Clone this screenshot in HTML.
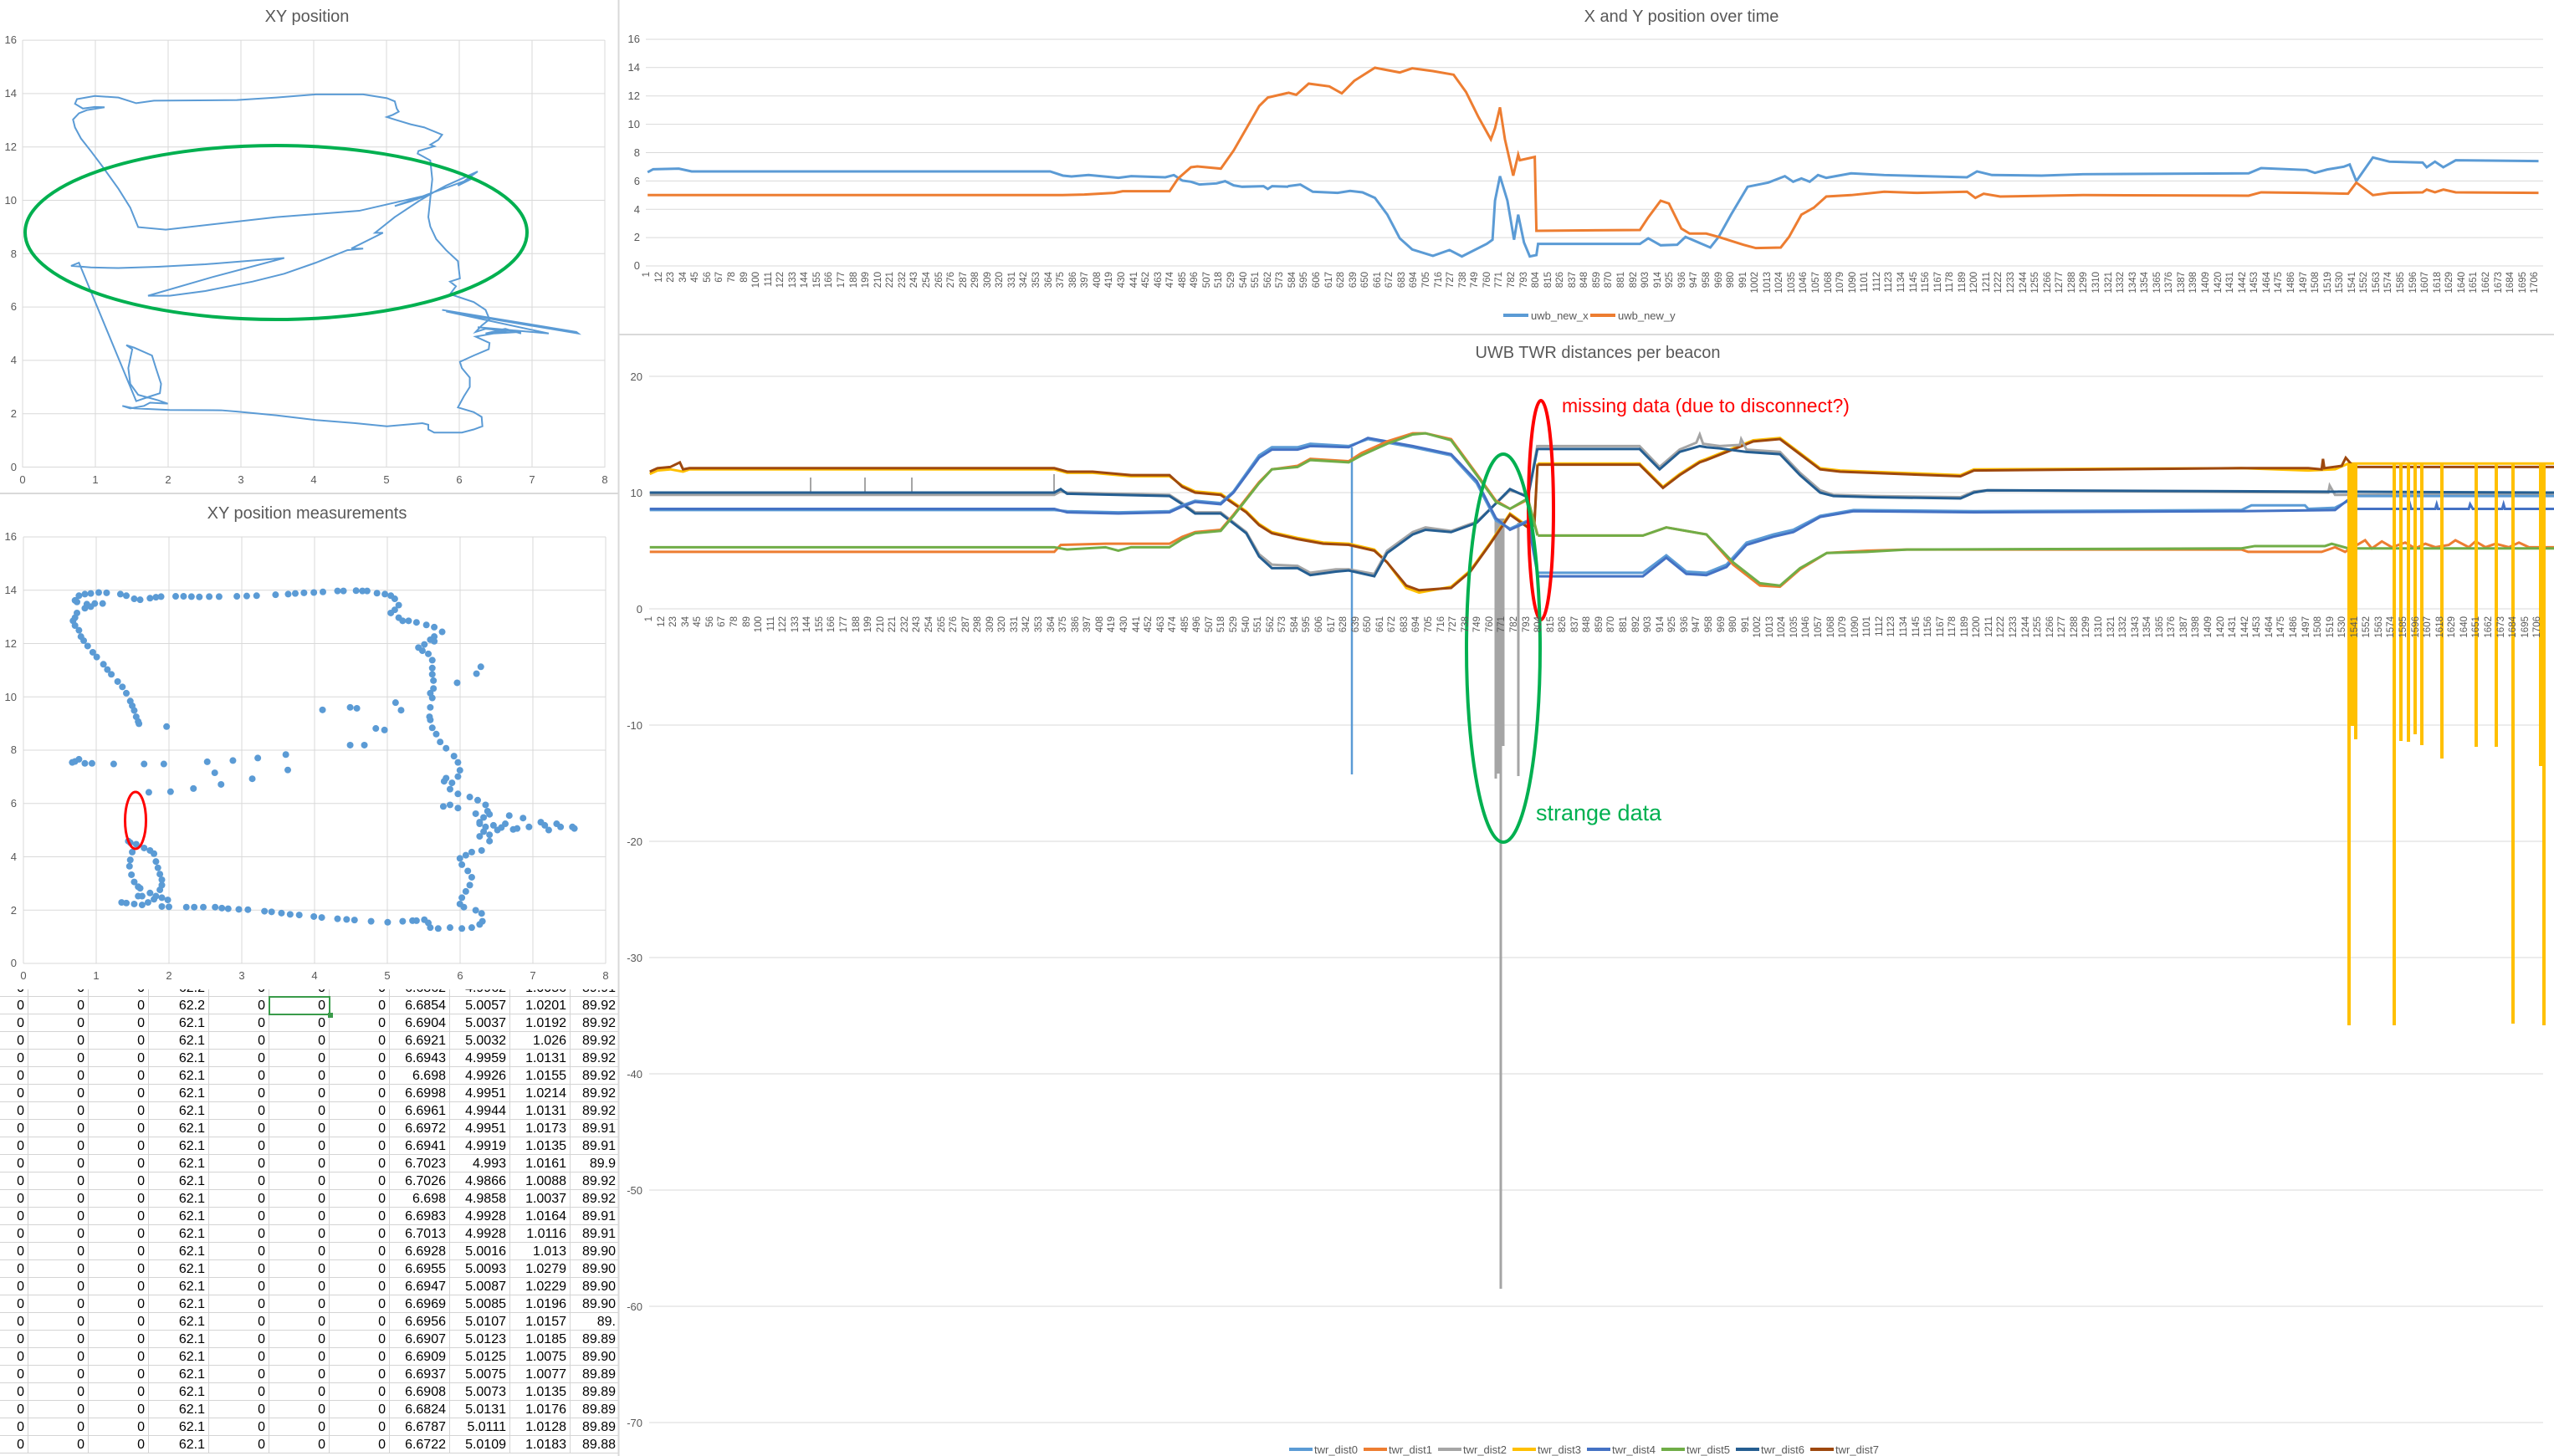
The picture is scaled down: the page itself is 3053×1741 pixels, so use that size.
<!DOCTYPE html>
<html><head><meta charset="utf-8">
<style>
body{margin:0;width:3053px;height:1741px;overflow:hidden;background:#fff;font-family:"Liberation Sans",sans-serif;position:relative}
svg{position:absolute;left:0;top:0}
.xl{position:absolute;display:flex;align-items:flex-start;font-size:11.5px;color:#595959;font-family:"Liberation Sans",sans-serif}
.xl span{flex:none;width:14.564px;line-height:14.564px;writing-mode:vertical-rl;transform:rotate(180deg);white-space:nowrap}
.tbl{position:absolute;left:0;top:1183px;width:739px;height:558px;overflow:hidden}
.tbl .in{position:absolute;left:-38px;top:-12px}
.r{display:flex;height:21px}
.r div{width:71px;height:20px;border-right:1px solid #d4d4d4;border-bottom:1px solid #d4d4d4;text-align:right;font-size:16px;line-height:21px;box-sizing:content-box;white-space:nowrap}
.r div span{padding-right:4px}
.r div:last-child span{padding-right:17px}
.sel{position:absolute;left:321px;top:1191px;width:70px;height:19px;border:2px solid #3a9b4a}
.sel:after{content:"";position:absolute;right:-5px;bottom:-5px;width:6px;height:6px;background:#3a9b4a}
</style></head><body>

<div class="tbl"><div class="in">
<div class="r"><div><span>0</span></div><div><span>0</span></div><div><span>0</span></div><div><span>62.2</span></div><div><span>0</span></div><div><span>0</span></div><div><span>0</span></div><div><span>6.6862</span></div><div><span>4.9962</span></div><div><span>1.0056</span></div><div><span>89.91</span></div></div>
<div class="r"><div><span>0</span></div><div><span>0</span></div><div><span>0</span></div><div><span>62.2</span></div><div><span>0</span></div><div><span>0</span></div><div><span>0</span></div><div><span>6.6854</span></div><div><span>5.0057</span></div><div><span>1.0201</span></div><div><span>89.92</span></div></div>
<div class="r"><div><span>0</span></div><div><span>0</span></div><div><span>0</span></div><div><span>62.1</span></div><div><span>0</span></div><div><span>0</span></div><div><span>0</span></div><div><span>6.6904</span></div><div><span>5.0037</span></div><div><span>1.0192</span></div><div><span>89.92</span></div></div>
<div class="r"><div><span>0</span></div><div><span>0</span></div><div><span>0</span></div><div><span>62.1</span></div><div><span>0</span></div><div><span>0</span></div><div><span>0</span></div><div><span>6.6921</span></div><div><span>5.0032</span></div><div><span>1.026</span></div><div><span>89.92</span></div></div>
<div class="r"><div><span>0</span></div><div><span>0</span></div><div><span>0</span></div><div><span>62.1</span></div><div><span>0</span></div><div><span>0</span></div><div><span>0</span></div><div><span>6.6943</span></div><div><span>4.9959</span></div><div><span>1.0131</span></div><div><span>89.92</span></div></div>
<div class="r"><div><span>0</span></div><div><span>0</span></div><div><span>0</span></div><div><span>62.1</span></div><div><span>0</span></div><div><span>0</span></div><div><span>0</span></div><div><span>6.698</span></div><div><span>4.9926</span></div><div><span>1.0155</span></div><div><span>89.92</span></div></div>
<div class="r"><div><span>0</span></div><div><span>0</span></div><div><span>0</span></div><div><span>62.1</span></div><div><span>0</span></div><div><span>0</span></div><div><span>0</span></div><div><span>6.6998</span></div><div><span>4.9951</span></div><div><span>1.0214</span></div><div><span>89.92</span></div></div>
<div class="r"><div><span>0</span></div><div><span>0</span></div><div><span>0</span></div><div><span>62.1</span></div><div><span>0</span></div><div><span>0</span></div><div><span>0</span></div><div><span>6.6961</span></div><div><span>4.9944</span></div><div><span>1.0131</span></div><div><span>89.92</span></div></div>
<div class="r"><div><span>0</span></div><div><span>0</span></div><div><span>0</span></div><div><span>62.1</span></div><div><span>0</span></div><div><span>0</span></div><div><span>0</span></div><div><span>6.6972</span></div><div><span>4.9951</span></div><div><span>1.0173</span></div><div><span>89.91</span></div></div>
<div class="r"><div><span>0</span></div><div><span>0</span></div><div><span>0</span></div><div><span>62.1</span></div><div><span>0</span></div><div><span>0</span></div><div><span>0</span></div><div><span>6.6941</span></div><div><span>4.9919</span></div><div><span>1.0135</span></div><div><span>89.91</span></div></div>
<div class="r"><div><span>0</span></div><div><span>0</span></div><div><span>0</span></div><div><span>62.1</span></div><div><span>0</span></div><div><span>0</span></div><div><span>0</span></div><div><span>6.7023</span></div><div><span>4.993</span></div><div><span>1.0161</span></div><div><span>89.9</span></div></div>
<div class="r"><div><span>0</span></div><div><span>0</span></div><div><span>0</span></div><div><span>62.1</span></div><div><span>0</span></div><div><span>0</span></div><div><span>0</span></div><div><span>6.7026</span></div><div><span>4.9866</span></div><div><span>1.0088</span></div><div><span>89.92</span></div></div>
<div class="r"><div><span>0</span></div><div><span>0</span></div><div><span>0</span></div><div><span>62.1</span></div><div><span>0</span></div><div><span>0</span></div><div><span>0</span></div><div><span>6.698</span></div><div><span>4.9858</span></div><div><span>1.0037</span></div><div><span>89.92</span></div></div>
<div class="r"><div><span>0</span></div><div><span>0</span></div><div><span>0</span></div><div><span>62.1</span></div><div><span>0</span></div><div><span>0</span></div><div><span>0</span></div><div><span>6.6983</span></div><div><span>4.9928</span></div><div><span>1.0164</span></div><div><span>89.91</span></div></div>
<div class="r"><div><span>0</span></div><div><span>0</span></div><div><span>0</span></div><div><span>62.1</span></div><div><span>0</span></div><div><span>0</span></div><div><span>0</span></div><div><span>6.7013</span></div><div><span>4.9928</span></div><div><span>1.0116</span></div><div><span>89.91</span></div></div>
<div class="r"><div><span>0</span></div><div><span>0</span></div><div><span>0</span></div><div><span>62.1</span></div><div><span>0</span></div><div><span>0</span></div><div><span>0</span></div><div><span>6.6928</span></div><div><span>5.0016</span></div><div><span>1.013</span></div><div><span>89.90</span></div></div>
<div class="r"><div><span>0</span></div><div><span>0</span></div><div><span>0</span></div><div><span>62.1</span></div><div><span>0</span></div><div><span>0</span></div><div><span>0</span></div><div><span>6.6955</span></div><div><span>5.0093</span></div><div><span>1.0279</span></div><div><span>89.90</span></div></div>
<div class="r"><div><span>0</span></div><div><span>0</span></div><div><span>0</span></div><div><span>62.1</span></div><div><span>0</span></div><div><span>0</span></div><div><span>0</span></div><div><span>6.6947</span></div><div><span>5.0087</span></div><div><span>1.0229</span></div><div><span>89.90</span></div></div>
<div class="r"><div><span>0</span></div><div><span>0</span></div><div><span>0</span></div><div><span>62.1</span></div><div><span>0</span></div><div><span>0</span></div><div><span>0</span></div><div><span>6.6969</span></div><div><span>5.0085</span></div><div><span>1.0196</span></div><div><span>89.90</span></div></div>
<div class="r"><div><span>0</span></div><div><span>0</span></div><div><span>0</span></div><div><span>62.1</span></div><div><span>0</span></div><div><span>0</span></div><div><span>0</span></div><div><span>6.6956</span></div><div><span>5.0107</span></div><div><span>1.0157</span></div><div><span>89.</span></div></div>
<div class="r"><div><span>0</span></div><div><span>0</span></div><div><span>0</span></div><div><span>62.1</span></div><div><span>0</span></div><div><span>0</span></div><div><span>0</span></div><div><span>6.6907</span></div><div><span>5.0123</span></div><div><span>1.0185</span></div><div><span>89.89</span></div></div>
<div class="r"><div><span>0</span></div><div><span>0</span></div><div><span>0</span></div><div><span>62.1</span></div><div><span>0</span></div><div><span>0</span></div><div><span>0</span></div><div><span>6.6909</span></div><div><span>5.0125</span></div><div><span>1.0075</span></div><div><span>89.90</span></div></div>
<div class="r"><div><span>0</span></div><div><span>0</span></div><div><span>0</span></div><div><span>62.1</span></div><div><span>0</span></div><div><span>0</span></div><div><span>0</span></div><div><span>6.6937</span></div><div><span>5.0075</span></div><div><span>1.0077</span></div><div><span>89.89</span></div></div>
<div class="r"><div><span>0</span></div><div><span>0</span></div><div><span>0</span></div><div><span>62.1</span></div><div><span>0</span></div><div><span>0</span></div><div><span>0</span></div><div><span>6.6908</span></div><div><span>5.0073</span></div><div><span>1.0135</span></div><div><span>89.89</span></div></div>
<div class="r"><div><span>0</span></div><div><span>0</span></div><div><span>0</span></div><div><span>62.1</span></div><div><span>0</span></div><div><span>0</span></div><div><span>0</span></div><div><span>6.6824</span></div><div><span>5.0131</span></div><div><span>1.0176</span></div><div><span>89.89</span></div></div>
<div class="r"><div><span>0</span></div><div><span>0</span></div><div><span>0</span></div><div><span>62.1</span></div><div><span>0</span></div><div><span>0</span></div><div><span>0</span></div><div><span>6.6787</span></div><div><span>5.0111</span></div><div><span>1.0128</span></div><div><span>89.89</span></div></div>
<div class="r"><div><span>0</span></div><div><span>0</span></div><div><span>0</span></div><div><span>62.1</span></div><div><span>0</span></div><div><span>0</span></div><div><span>0</span></div><div><span>6.6722</span></div><div><span>5.0109</span></div><div><span>1.0183</span></div><div><span>89.88</span></div></div>
</div></div>
<div class="sel"></div>

<svg width="3053" height="1741" viewBox="0 0 3053 1741" style="pointer-events:none">
<style>text{font-family:"Liberation Sans",sans-serif;fill:#595959}</style>
<rect x="0" y="0" width="739" height="589" fill="#fff"/>
<rect x="0" y="591" width="739" height="592" fill="#fff"/>
<line x1="739.5" y1="0" x2="739.5" y2="1741" stroke="#d9d9d9" stroke-width="2"/>
<line x1="0" y1="590" x2="739" y2="590" stroke="#d9d9d9" stroke-width="2"/>
<line x1="740" y1="400" x2="3053" y2="400" stroke="#d9d9d9" stroke-width="2"/>

<text x="367" y="26" font-size="20" text-anchor="middle">XY position</text>
<g stroke="#d9d9d9" stroke-width="1">
<line x1="27" y1="48" x2="27" y2="559"/><line x1="114" y1="48" x2="114" y2="559"/><line x1="201" y1="48" x2="201" y2="559"/><line x1="288" y1="48" x2="288" y2="559"/><line x1="375" y1="48" x2="375" y2="559"/><line x1="462" y1="48" x2="462" y2="559"/><line x1="549" y1="48" x2="549" y2="559"/><line x1="636" y1="48" x2="636" y2="559"/><line x1="723" y1="48" x2="723" y2="559"/>
<line x1="27" y1="558.5" x2="723" y2="558.5"/><line x1="27" y1="494.7" x2="723" y2="494.7"/><line x1="27" y1="430.9" x2="723" y2="430.9"/><line x1="27" y1="367.1" x2="723" y2="367.1"/><line x1="27" y1="303.3" x2="723" y2="303.3"/><line x1="27" y1="239.5" x2="723" y2="239.5"/><line x1="27" y1="175.7" x2="723" y2="175.7"/><line x1="27" y1="111.9" x2="723" y2="111.9"/><line x1="27" y1="48.1" x2="723" y2="48.1"/>
</g>
<g font-size="13" text-anchor="end">
<text x="20" y="563">0</text><text x="20" y="499">2</text><text x="20" y="435">4</text><text x="20" y="371">6</text><text x="20" y="308">8</text><text x="20" y="244">10</text><text x="20" y="180">12</text><text x="20" y="116">14</text><text x="20" y="52">16</text>
</g>
<g font-size="13" text-anchor="middle">
<text x="27" y="578">0</text><text x="114" y="578">1</text><text x="201" y="578">2</text><text x="288" y="578">3</text><text x="375" y="578">4</text><text x="462" y="578">5</text><text x="549" y="578">6</text><text x="636" y="578">7</text><text x="723" y="578">8</text>
</g>
<g transform="scale(0.4719,0.3762)">
<polyline fill="none" stroke="#5B9BD5" stroke-width="2" vector-effect="non-scaling-stroke" points="265,341 240,340 210,345 190,330 195,315 240,305 300,310 345,328 390,320 600,318 700,310 800,300 920,300 980,312 1000,322 1005,345 1010,355 995,365 980,372 1000,380 1040,395 1075,405 1120,428 1110,445 1090,460 1100,465 1060,480 1058,488 1090,510 1095,570 1090,630 1085,690 1090,720 1105,760 1130,795 1160,830 1165,885 1140,895 1155,910 1140,935 1200,960 1230,985 1240,1015 1220,1035 1205,1055 1230,1045 1270,1050 1320,1055 1250,1060 1205,1070 1240,1090 1238,1110 1200,1130 1165,1150 1170,1170 1190,1200 1190,1230 1175,1260 1160,1295 1200,1310 1220,1325 1222,1355 1200,1365 1170,1375 1100,1375 1085,1365 1085,1350 1070,1345 980,1355 900,1345 800,1335 700,1320 600,1308 560,1304 430,1303 340,1298 310,1290 330,1298 365,1290 380,1280 425,1283 400,1272 350,1255 330,1220 325,1170 335,1110 320,1097 340,1105 385,1130 395,1170 408,1220 405,1250 380,1260 345,1275 200,835 180,845 230,850 300,852 400,848 520,840 720,820 540,880 375,940 430,940 520,925 640,895 720,870 800,835 880,795 920,790 890,790 970,740 950,740 1000,690 1060,640 1100,610 1130,590 1210,545 1160,590 1200,565 1090,615 1000,655 1040,640 1090,618 910,670 700,690 420,730 350,722 330,660 300,600 260,530 230,480 205,440 190,405 185,380 200,360 220,350 265,341"/>
<polyline fill="none" stroke="#5B9BD5" stroke-width="2" vector-effect="non-scaling-stroke" points="1120,985 1460,1055 1465,1060 1130,990 1390,1060 1210,1040 1300,1050 1230,1060 1280,1045 1320,1060"/>
</g>
<ellipse cx="330" cy="278" rx="300" ry="104" fill="none" stroke="#00B050" stroke-width="4"/>

<text x="367" y="620" font-size="20" text-anchor="middle">XY position measurements</text>
<g stroke="#d9d9d9" stroke-width="1">
<line x1="28" y1="642" x2="28" y2="1152"/><line x1="115" y1="642" x2="115" y2="1152"/><line x1="202" y1="642" x2="202" y2="1152"/><line x1="289" y1="642" x2="289" y2="1152"/><line x1="376" y1="642" x2="376" y2="1152"/><line x1="463" y1="642" x2="463" y2="1152"/><line x1="550" y1="642" x2="550" y2="1152"/><line x1="637" y1="642" x2="637" y2="1152"/><line x1="724" y1="642" x2="724" y2="1152"/>
<line x1="28" y1="1152" x2="724" y2="1152"/><line x1="28" y1="1088.25" x2="724" y2="1088.25"/><line x1="28" y1="1024.5" x2="724" y2="1024.5"/><line x1="28" y1="960.75" x2="724" y2="960.75"/><line x1="28" y1="897" x2="724" y2="897"/><line x1="28" y1="833.25" x2="724" y2="833.25"/><line x1="28" y1="769.5" x2="724" y2="769.5"/><line x1="28" y1="705.75" x2="724" y2="705.75"/><line x1="28" y1="642" x2="724" y2="642"/>
</g>
<g font-size="13" text-anchor="end">
<text x="20" y="1156">0</text><text x="20" y="1093">2</text><text x="20" y="1029">4</text><text x="20" y="965">6</text><text x="20" y="901">8</text><text x="20" y="838">10</text><text x="20" y="774">12</text><text x="20" y="710">14</text><text x="20" y="646">16</text>
</g>
<g font-size="13" text-anchor="middle">
<text x="28" y="1171">0</text><text x="115" y="1171">1</text><text x="202" y="1171">2</text><text x="289" y="1171">3</text><text x="376" y="1171">4</text><text x="463" y="1171">5</text><text x="550" y="1171">6</text><text x="637" y="1171">7</text><text x="724" y="1171">8</text>
</g>
<g transform="translate(0,590) scale(0.4719,0.3762)" fill="#5B9BD5">
<ellipse cx="305" cy="320" rx="8.5" ry="10.6"/><ellipse cx="320" cy="325" rx="8.5" ry="10.6"/><ellipse cx="340" cy="335" rx="8.5" ry="10.6"/><ellipse cx="355" cy="338" rx="8.5" ry="10.6"/><ellipse cx="380" cy="333" rx="8.5" ry="10.6"/><ellipse cx="395" cy="330" rx="8.5" ry="10.6"/><ellipse cx="408" cy="328" rx="8.5" ry="10.6"/><ellipse cx="445" cy="327" rx="8.5" ry="10.6"/><ellipse cx="465" cy="327" rx="8.5" ry="10.6"/><ellipse cx="485" cy="328" rx="8.5" ry="10.6"/><ellipse cx="505" cy="329" rx="8.5" ry="10.6"/><ellipse cx="530" cy="328" rx="8.5" ry="10.6"/><ellipse cx="555" cy="328" rx="8.5" ry="10.6"/><ellipse cx="600" cy="327" rx="8.5" ry="10.6"/><ellipse cx="625" cy="326" rx="8.5" ry="10.6"/><ellipse cx="650" cy="325" rx="8.5" ry="10.6"/><ellipse cx="698" cy="322" rx="8.5" ry="10.6"/><ellipse cx="730" cy="320" rx="8.5" ry="10.6"/><ellipse cx="748" cy="318" rx="8.5" ry="10.6"/><ellipse cx="770" cy="316" rx="8.5" ry="10.6"/><ellipse cx="795" cy="315" rx="8.5" ry="10.6"/><ellipse cx="818" cy="313" rx="8.5" ry="10.6"/><ellipse cx="855" cy="310" rx="8.5" ry="10.6"/><ellipse cx="870" cy="310" rx="8.5" ry="10.6"/><ellipse cx="902" cy="309" rx="8.5" ry="10.6"/><ellipse cx="918" cy="310" rx="8.5" ry="10.6"/><ellipse cx="930" cy="310" rx="8.5" ry="10.6"/><ellipse cx="955" cy="317" rx="8.5" ry="10.6"/><ellipse cx="975" cy="320" rx="8.5" ry="10.6"/><ellipse cx="990" cy="325" rx="8.5" ry="10.6"/>
<ellipse cx="190" cy="340" rx="8.5" ry="10.6"/><ellipse cx="200" cy="325" rx="8.5" ry="10.6"/><ellipse cx="215" cy="320" rx="8.5" ry="10.6"/><ellipse cx="230" cy="318" rx="8.5" ry="10.6"/><ellipse cx="250" cy="315" rx="8.5" ry="10.6"/><ellipse cx="270" cy="316" rx="8.5" ry="10.6"/><ellipse cx="195" cy="345" rx="8.5" ry="10.6"/><ellipse cx="220" cy="352" rx="8.5" ry="10.6"/><ellipse cx="240" cy="350" rx="8.5" ry="10.6"/><ellipse cx="260" cy="350" rx="8.5" ry="10.6"/><ellipse cx="215" cy="365" rx="8.5" ry="10.6"/><ellipse cx="230" cy="360" rx="8.5" ry="10.6"/><ellipse cx="195" cy="380" rx="8.5" ry="10.6"/><ellipse cx="190" cy="395" rx="8.5" ry="10.6"/><ellipse cx="185" cy="405" rx="8.5" ry="10.6"/><ellipse cx="190" cy="420" rx="8.5" ry="10.6"/><ellipse cx="200" cy="435" rx="8.5" ry="10.6"/><ellipse cx="205" cy="455" rx="8.5" ry="10.6"/><ellipse cx="212" cy="468" rx="8.5" ry="10.6"/><ellipse cx="222" cy="485" rx="8.5" ry="10.6"/><ellipse cx="235" cy="505" rx="8.5" ry="10.6"/><ellipse cx="245" cy="520" rx="8.5" ry="10.6"/><ellipse cx="262" cy="543" rx="8.5" ry="10.6"/><ellipse cx="272" cy="560" rx="8.5" ry="10.6"/><ellipse cx="282" cy="575" rx="8.5" ry="10.6"/><ellipse cx="298" cy="598" rx="8.5" ry="10.6"/><ellipse cx="310" cy="615" rx="8.5" ry="10.6"/><ellipse cx="320" cy="635" rx="8.5" ry="10.6"/><ellipse cx="330" cy="660" rx="8.5" ry="10.6"/><ellipse cx="335" cy="675" rx="8.5" ry="10.6"/><ellipse cx="340" cy="690" rx="8.5" ry="10.6"/><ellipse cx="345" cy="710" rx="8.5" ry="10.6"/><ellipse cx="350" cy="725" rx="8.5" ry="10.6"/><ellipse cx="352" cy="732" rx="8.5" ry="10.6"/>
<ellipse cx="1000" cy="335" rx="8.5" ry="10.6"/><ellipse cx="1010" cy="355" rx="8.5" ry="10.6"/><ellipse cx="1000" cy="370" rx="8.5" ry="10.6"/><ellipse cx="990" cy="380" rx="8.5" ry="10.6"/><ellipse cx="1010" cy="395" rx="8.5" ry="10.6"/><ellipse cx="1020" cy="405" rx="8.5" ry="10.6"/><ellipse cx="1035" cy="405" rx="8.5" ry="10.6"/><ellipse cx="1055" cy="410" rx="8.5" ry="10.6"/><ellipse cx="1080" cy="418" rx="8.5" ry="10.6"/><ellipse cx="1100" cy="425" rx="8.5" ry="10.6"/><ellipse cx="1120" cy="440" rx="8.5" ry="10.6"/><ellipse cx="1100" cy="455" rx="8.5" ry="10.6"/><ellipse cx="1090" cy="465" rx="8.5" ry="10.6"/><ellipse cx="1100" cy="470" rx="8.5" ry="10.6"/><ellipse cx="1075" cy="480" rx="8.5" ry="10.6"/><ellipse cx="1060" cy="490" rx="8.5" ry="10.6"/><ellipse cx="1070" cy="500" rx="8.5" ry="10.6"/><ellipse cx="1085" cy="510" rx="8.5" ry="10.6"/><ellipse cx="1095" cy="530" rx="8.5" ry="10.6"/><ellipse cx="1095" cy="555" rx="8.5" ry="10.6"/><ellipse cx="1095" cy="575" rx="8.5" ry="10.6"/><ellipse cx="1098" cy="595" rx="8.5" ry="10.6"/><ellipse cx="1098" cy="620" rx="8.5" ry="10.6"/><ellipse cx="1090" cy="635" rx="8.5" ry="10.6"/><ellipse cx="1095" cy="650" rx="8.5" ry="10.6"/><ellipse cx="1090" cy="680" rx="8.5" ry="10.6"/><ellipse cx="1088" cy="710" rx="8.5" ry="10.6"/><ellipse cx="1090" cy="720" rx="8.5" ry="10.6"/><ellipse cx="1095" cy="745" rx="8.5" ry="10.6"/><ellipse cx="1105" cy="765" rx="8.5" ry="10.6"/><ellipse cx="1115" cy="790" rx="8.5" ry="10.6"/><ellipse cx="1130" cy="810" rx="8.5" ry="10.6"/><ellipse cx="1150" cy="835" rx="8.5" ry="10.6"/><ellipse cx="1160" cy="855" rx="8.5" ry="10.6"/><ellipse cx="1165" cy="880" rx="8.5" ry="10.6"/><ellipse cx="1160" cy="900" rx="8.5" ry="10.6"/><ellipse cx="1130" cy="905" rx="8.5" ry="10.6"/><ellipse cx="1125" cy="915" rx="8.5" ry="10.6"/><ellipse cx="1145" cy="920" rx="8.5" ry="10.6"/><ellipse cx="1140" cy="940" rx="8.5" ry="10.6"/><ellipse cx="1160" cy="955" rx="8.5" ry="10.6"/><ellipse cx="1190" cy="965" rx="8.5" ry="10.6"/><ellipse cx="1210" cy="975" rx="8.5" ry="10.6"/><ellipse cx="1230" cy="990" rx="8.5" ry="10.6"/><ellipse cx="1235" cy="1010" rx="8.5" ry="10.6"/><ellipse cx="1225" cy="1030" rx="8.5" ry="10.6"/><ellipse cx="1215" cy="1050" rx="8.5" ry="10.6"/><ellipse cx="1230" cy="1060" rx="8.5" ry="10.6"/><ellipse cx="1260" cy="1070" rx="8.5" ry="10.6"/><ellipse cx="1300" cy="1068" rx="8.5" ry="10.6"/><ellipse cx="1340" cy="1060" rx="8.5" ry="10.6"/><ellipse cx="1380" cy="1055" rx="8.5" ry="10.6"/><ellipse cx="1420" cy="1060" rx="8.5" ry="10.6"/><ellipse cx="1455" cy="1065" rx="8.5" ry="10.6"/><ellipse cx="1370" cy="1045" rx="8.5" ry="10.6"/><ellipse cx="1410" cy="1050" rx="8.5" ry="10.6"/><ellipse cx="1450" cy="1060" rx="8.5" ry="10.6"/><ellipse cx="1240" cy="1085" rx="8.5" ry="10.6"/><ellipse cx="1215" cy="1090" rx="8.5" ry="10.6"/><ellipse cx="1240" cy="1105" rx="8.5" ry="10.6"/><ellipse cx="1220" cy="1135" rx="8.5" ry="10.6"/><ellipse cx="1195" cy="1140" rx="8.5" ry="10.6"/><ellipse cx="1180" cy="1150" rx="8.5" ry="10.6"/><ellipse cx="1165" cy="1160" rx="8.5" ry="10.6"/><ellipse cx="1170" cy="1180" rx="8.5" ry="10.6"/><ellipse cx="1185" cy="1200" rx="8.5" ry="10.6"/><ellipse cx="1195" cy="1220" rx="8.5" ry="10.6"/><ellipse cx="1190" cy="1245" rx="8.5" ry="10.6"/><ellipse cx="1180" cy="1265" rx="8.5" ry="10.6"/><ellipse cx="1170" cy="1285" rx="8.5" ry="10.6"/><ellipse cx="1165" cy="1305" rx="8.5" ry="10.6"/><ellipse cx="1175" cy="1315" rx="8.5" ry="10.6"/><ellipse cx="1205" cy="1325" rx="8.5" ry="10.6"/><ellipse cx="1220" cy="1335" rx="8.5" ry="10.6"/><ellipse cx="1222" cy="1360" rx="8.5" ry="10.6"/><ellipse cx="1215" cy="1370" rx="8.5" ry="10.6"/><ellipse cx="1195" cy="1380" rx="8.5" ry="10.6"/><ellipse cx="1170" cy="1383" rx="8.5" ry="10.6"/><ellipse cx="1140" cy="1380" rx="8.5" ry="10.6"/><ellipse cx="1110" cy="1383" rx="8.5" ry="10.6"/><ellipse cx="1090" cy="1380" rx="8.5" ry="10.6"/><ellipse cx="1085" cy="1365" rx="8.5" ry="10.6"/><ellipse cx="1075" cy="1355" rx="8.5" ry="10.6"/><ellipse cx="1055" cy="1358" rx="8.5" ry="10.6"/><ellipse cx="1045" cy="1358" rx="8.5" ry="10.6"/><ellipse cx="1020" cy="1360" rx="8.5" ry="10.6"/><ellipse cx="982" cy="1363" rx="8.5" ry="10.6"/><ellipse cx="940" cy="1360" rx="8.5" ry="10.6"/><ellipse cx="898" cy="1356" rx="8.5" ry="10.6"/><ellipse cx="878" cy="1354" rx="8.5" ry="10.6"/><ellipse cx="855" cy="1352" rx="8.5" ry="10.6"/><ellipse cx="815" cy="1348" rx="8.5" ry="10.6"/><ellipse cx="795" cy="1345" rx="8.5" ry="10.6"/><ellipse cx="758" cy="1340" rx="8.5" ry="10.6"/><ellipse cx="735" cy="1338" rx="8.5" ry="10.6"/><ellipse cx="713" cy="1334" rx="8.5" ry="10.6"/><ellipse cx="688" cy="1330" rx="8.5" ry="10.6"/><ellipse cx="670" cy="1328" rx="8.5" ry="10.6"/><ellipse cx="628" cy="1323" rx="8.5" ry="10.6"/><ellipse cx="605" cy="1322" rx="8.5" ry="10.6"/><ellipse cx="578" cy="1320" rx="8.5" ry="10.6"/><ellipse cx="562" cy="1318" rx="8.5" ry="10.6"/><ellipse cx="545" cy="1315" rx="8.5" ry="10.6"/><ellipse cx="515" cy="1315" rx="8.5" ry="10.6"/><ellipse cx="492" cy="1315" rx="8.5" ry="10.6"/><ellipse cx="472" cy="1315" rx="8.5" ry="10.6"/><ellipse cx="428" cy="1314" rx="8.5" ry="10.6"/><ellipse cx="410" cy="1313" rx="8.5" ry="10.6"/><ellipse cx="390" cy="1290" rx="8.5" ry="10.6"/><ellipse cx="375" cy="1300" rx="8.5" ry="10.6"/><ellipse cx="360" cy="1308" rx="8.5" ry="10.6"/><ellipse cx="340" cy="1305" rx="8.5" ry="10.6"/><ellipse cx="320" cy="1302" rx="8.5" ry="10.6"/><ellipse cx="308" cy="1300" rx="8.5" ry="10.6"/><ellipse cx="350" cy="1280" rx="8.5" ry="10.6"/><ellipse cx="360" cy="1280" rx="8.5" ry="10.6"/><ellipse cx="380" cy="1270" rx="8.5" ry="10.6"/><ellipse cx="395" cy="1280" rx="8.5" ry="10.6"/><ellipse cx="410" cy="1285" rx="8.5" ry="10.6"/><ellipse cx="425" cy="1292" rx="8.5" ry="10.6"/><ellipse cx="405" cy="1260" rx="8.5" ry="10.6"/><ellipse cx="410" cy="1245" rx="8.5" ry="10.6"/><ellipse cx="410" cy="1228" rx="8.5" ry="10.6"/><ellipse cx="405" cy="1210" rx="8.5" ry="10.6"/><ellipse cx="400" cy="1190" rx="8.5" ry="10.6"/><ellipse cx="395" cy="1170" rx="8.5" ry="10.6"/><ellipse cx="390" cy="1145" rx="8.5" ry="10.6"/><ellipse cx="380" cy="1135" rx="8.5" ry="10.6"/><ellipse cx="365" cy="1127" rx="8.5" ry="10.6"/><ellipse cx="345" cy="1115" rx="8.5" ry="10.6"/><ellipse cx="330" cy="1110" rx="8.5" ry="10.6"/><ellipse cx="325" cy="1105" rx="8.5" ry="10.6"/><ellipse cx="335" cy="1140" rx="8.5" ry="10.6"/><ellipse cx="330" cy="1165" rx="8.5" ry="10.6"/><ellipse cx="328" cy="1185" rx="8.5" ry="10.6"/><ellipse cx="333" cy="1212" rx="8.5" ry="10.6"/><ellipse cx="340" cy="1235" rx="8.5" ry="10.6"/><ellipse cx="350" cy="1250" rx="8.5" ry="10.6"/><ellipse cx="355" cy="1255" rx="8.5" ry="10.6"/>
<ellipse cx="183" cy="855" rx="8.5" ry="10.6"/><ellipse cx="190" cy="852" rx="8.5" ry="10.6"/><ellipse cx="200" cy="845" rx="8.5" ry="10.6"/><ellipse cx="215" cy="858" rx="8.5" ry="10.6"/><ellipse cx="233" cy="858" rx="8.5" ry="10.6"/><ellipse cx="288" cy="860" rx="8.5" ry="10.6"/><ellipse cx="365" cy="860" rx="8.5" ry="10.6"/><ellipse cx="415" cy="860" rx="8.5" ry="10.6"/><ellipse cx="525" cy="853" rx="8.5" ry="10.6"/><ellipse cx="590" cy="849" rx="8.5" ry="10.6"/><ellipse cx="653" cy="841" rx="8.5" ry="10.6"/><ellipse cx="724" cy="830" rx="8.5" ry="10.6"/><ellipse cx="729" cy="879" rx="8.5" ry="10.6"/><ellipse cx="639" cy="907" rx="8.5" ry="10.6"/><ellipse cx="544" cy="888" rx="8.5" ry="10.6"/><ellipse cx="560" cy="925" rx="8.5" ry="10.6"/><ellipse cx="490" cy="938" rx="8.5" ry="10.6"/><ellipse cx="432" cy="948" rx="8.5" ry="10.6"/><ellipse cx="377" cy="950" rx="8.5" ry="10.6"/><ellipse cx="422" cy="741" rx="8.5" ry="10.6"/><ellipse cx="817" cy="688" rx="8.5" ry="10.6"/><ellipse cx="887" cy="680" rx="8.5" ry="10.6"/><ellipse cx="904" cy="683" rx="8.5" ry="10.6"/><ellipse cx="952" cy="747" rx="8.5" ry="10.6"/><ellipse cx="974" cy="752" rx="8.5" ry="10.6"/><ellipse cx="887" cy="800" rx="8.5" ry="10.6"/><ellipse cx="923" cy="800" rx="8.5" ry="10.6"/><ellipse cx="1002" cy="665" rx="8.5" ry="10.6"/><ellipse cx="1016" cy="689" rx="8.5" ry="10.6"/><ellipse cx="1158" cy="602" rx="8.5" ry="10.6"/><ellipse cx="1207" cy="573" rx="8.5" ry="10.6"/><ellipse cx="1218" cy="551" rx="8.5" ry="10.6"/><ellipse cx="1123" cy="995" rx="8.5" ry="10.6"/><ellipse cx="1140" cy="990" rx="8.5" ry="10.6"/><ellipse cx="1160" cy="1000" rx="8.5" ry="10.6"/><ellipse cx="1290" cy="1024" rx="8.5" ry="10.6"/><ellipse cx="1325" cy="1032" rx="8.5" ry="10.6"/><ellipse cx="1240" cy="1020" rx="8.5" ry="10.6"/><ellipse cx="1205" cy="1018" rx="8.5" ry="10.6"/><ellipse cx="1390" cy="1070" rx="8.5" ry="10.6"/><ellipse cx="1215" cy="1045" rx="8.5" ry="10.6"/><ellipse cx="1250" cy="1055" rx="8.5" ry="10.6"/><ellipse cx="1280" cy="1050" rx="8.5" ry="10.6"/><ellipse cx="1310" cy="1065" rx="8.5" ry="10.6"/><ellipse cx="1225" cy="1075" rx="8.5" ry="10.6"/><ellipse cx="1270" cy="1062" rx="8.5" ry="10.6"/>
</g>
<ellipse cx="162" cy="981" rx="12.5" ry="34" fill="none" stroke="#FF0000" stroke-width="3"/>

<text x="2010" y="26" font-size="20" text-anchor="middle">X and Y position over time</text>
<g stroke="#d9d9d9" stroke-width="1">
<line x1="772" y1="318" x2="3040" y2="318"/><line x1="772" y1="284.1" x2="3040" y2="284.1"/><line x1="772" y1="250.2" x2="3040" y2="250.2"/><line x1="772" y1="216.4" x2="3040" y2="216.4"/><line x1="772" y1="182.5" x2="3040" y2="182.5"/><line x1="772" y1="148.6" x2="3040" y2="148.6"/><line x1="772" y1="114.7" x2="3040" y2="114.7"/><line x1="772" y1="80.8" x2="3040" y2="80.8"/><line x1="772" y1="47" x2="3040" y2="47"/>
</g>
<g font-size="13" text-anchor="end">
<text x="765" y="322">0</text><text x="765" y="288">2</text><text x="765" y="255">4</text><text x="765" y="221">6</text><text x="765" y="187">8</text><text x="765" y="153">10</text><text x="765" y="119">12</text><text x="765" y="85">14</text><text x="765" y="51">16</text>
</g>
<g transform="translate(740,0) scale(0.5102,0.3333)" fill="none">
<polyline stroke="#5B9BD5" stroke-width="3" vector-effect="non-scaling-stroke" points="67,618 80,607 140,605 170,615 1010,615 1040,630 1060,633 1100,628 1170,638 1200,632 1280,636 1300,628 1320,648 1340,652 1360,662 1400,658 1420,650 1440,665 1460,670 1510,668 1520,678 1530,668 1568,670"/>
<polyline stroke="#ED7D31" stroke-width="3" vector-effect="non-scaling-stroke" points="67,700 1030,700 1090,698 1160,692 1180,686 1290,686 1310,640 1340,600 1355,597 1410,605 1440,540 1470,460 1500,380 1520,350 1568,333"/>
</g>
<g transform="translate(1500,0) scale(0.99,0.3333)" fill="none">
<polyline stroke="#5B9BD5" stroke-width="3" vector-effect="non-scaling-stroke" points="40,668 55,662 70,688 100,692 115,685 130,690 145,710 160,770 175,855 190,895 215,918 235,897 250,920 280,875 287,860 290,720 296,632 305,720 313,860 318,770 325,870 332,920 340,915 342,875 465,875 475,855 490,880 510,878 520,850 550,888 560,850 575,770 595,670 620,655 640,632 650,652 660,640 670,652 680,628 690,638 720,622 760,628 860,636 872,615 890,628 950,630 1000,625 1200,622 1215,603 1270,610 1280,620 1295,608 1315,598 1322,590 1330,650 1350,565 1370,580 1410,583 1415,600 1425,580 1435,600 1450,575 1550,578"/>
<polyline stroke="#ED7D31" stroke-width="3" vector-effect="non-scaling-stroke" points="40,332 50,340 65,300 90,310 105,335 120,290 145,243 175,260 190,245 215,255 240,268 255,330 270,420 285,500 290,460 296,385 302,500 312,630 318,555 320,575 338,563 340,828 465,825 475,780 490,720 500,730 515,820 525,838 545,838 560,850 590,878 605,890 635,888 645,850 660,770 675,745 690,705 720,700 760,688 800,692 860,688 870,710 880,695 900,705 1000,700 1200,702 1215,690 1270,692 1320,695 1330,655 1350,700 1370,692 1410,690 1415,680 1425,690 1435,680 1450,690 1550,692"/>
</g>
<line x1="1797" y1="377" x2="1827" y2="377" stroke="#5B9BD5" stroke-width="4"/>
<text x="1830" y="382" font-size="13">uwb_new_x</text>
<line x1="1901" y1="377" x2="1931" y2="377" stroke="#ED7D31" stroke-width="4"/>
<text x="1934" y="382" font-size="13">uwb_new_y</text>

<text x="1910" y="428" font-size="20" text-anchor="middle">UWB TWR distances per beacon</text>
<g stroke="#d9d9d9" stroke-width="1">
<line x1="776" y1="450" x2="3040" y2="450"/><line x1="776" y1="589" x2="3040" y2="589"/><line x1="776" y1="728" x2="3040" y2="728"/><line x1="776" y1="867" x2="3040" y2="867"/><line x1="776" y1="1006" x2="3040" y2="1006"/><line x1="776" y1="1145" x2="3040" y2="1145"/><line x1="776" y1="1284" x2="3040" y2="1284"/><line x1="776" y1="1423" x2="3040" y2="1423"/><line x1="776" y1="1562" x2="3040" y2="1562"/><line x1="776" y1="1701" x2="3040" y2="1701"/>
</g>
<g font-size="13" text-anchor="end">
<text x="768" y="455">20</text><text x="768" y="594">10</text><text x="768" y="733">0</text><text x="768" y="872">-10</text><text x="768" y="1011">-20</text><text x="768" y="1150">-30</text><text x="768" y="1289">-40</text><text x="768" y="1428">-50</text><text x="768" y="1567">-60</text><text x="768" y="1706">-70</text>
</g>
<g stroke-width="3">
<line x1="1616" y1="535" x2="1616" y2="926" stroke="#5B9BD5" stroke-width="2.5"/>
<line x1="1788" y1="620" x2="1788" y2="931" stroke="#A5A5A5"/>
<line x1="1791" y1="620" x2="1791" y2="925" stroke="#A5A5A5"/>
<line x1="1794" y1="620" x2="1794" y2="1541" stroke="#A5A5A5"/>
<line x1="1797" y1="620" x2="1797" y2="892" stroke="#A5A5A5"/>
<line x1="1815" y1="625" x2="1815" y2="928" stroke="#A5A5A5"/>
<line x1="969" y1="589" x2="969" y2="571" stroke="#A5A5A5" stroke-width="2"/>
<line x1="1034" y1="589" x2="1034" y2="571" stroke="#A5A5A5" stroke-width="2"/>
<line x1="1090" y1="589" x2="1090" y2="571" stroke="#A5A5A5" stroke-width="2"/>
<line x1="1260" y1="589" x2="1260" y2="567" stroke="#A5A5A5" stroke-width="2"/>
</g>
<g transform="translate(740,728) scale(0.7651,-13.9)" fill="none">
<polyline stroke="#FFC000" stroke-width="3" vector-effect="non-scaling-stroke" points="48,11.6 60,11.9 80,12.0 100,11.8 110,12.0 680,12.0 700,11.7 740,11.7 800,11.4 860,11.4 880,10.6 900,10.1 940,9.9 980,8.4 1000,7.3 1020,6.6 1060,6.1 1100,5.7 1140,5.6 1180,5.1 1200,4.0 1230,1.8 1250,1.4 1300,1.9 1330,3.3 1360,5.6 1392,8.2 1420,7.1 1430,7.3 1435,12.5"/>
<polyline stroke="#9E480E" stroke-width="3" vector-effect="non-scaling-stroke" points="48,11.8 60,12.1 80,12.2 95,12.6 100,12.0 110,12.1 680,12.1 700,11.8 740,11.8 800,11.5 860,11.5 880,10.5 900,10.0 940,9.8 980,8.3 1000,7.2 1020,6.5 1060,6.0 1100,5.6 1140,5.5 1180,5.0 1200,4.0 1230,2.0 1250,1.6 1300,1.8 1330,3.2 1360,5.5 1392,8.1 1420,7.0 1430,7.2 1435,12.4"/>
<polyline stroke="#A5A5A5" stroke-width="3" vector-effect="non-scaling-stroke" points="48,9.8 680,9.8 690,10.1 700,10.0 780,9.9 860,9.8 880,9.1 900,8.3 940,8.3 980,6.6 1000,4.7 1020,3.8 1060,3.7 1080,3.1 1120,3.4 1140,3.4 1180,3.0 1200,5.0 1240,6.6 1260,7.0 1300,6.7 1340,7.5 1392,10.2 1420,9.7 1435,14.1"/>
<polyline stroke="#255E91" stroke-width="3" vector-effect="non-scaling-stroke" points="48,10.0 680,10.0 690,10.3 700,9.9 780,9.8 860,9.7 880,9.0 900,8.2 940,8.2 980,6.5 1000,4.5 1020,3.5 1060,3.5 1080,2.9 1120,3.2 1140,3.3 1180,2.8 1200,4.8 1240,6.4 1260,6.8 1300,6.6 1340,7.4 1392,10.3 1420,9.6 1435,13.8"/>
<polyline stroke="#5B9BD5" stroke-width="3" vector-effect="non-scaling-stroke" points="48,8.5 680,8.5 700,8.4 780,8.3 860,8.4 880,8.9 900,9.3 940,9.1 960,10.1 1000,13.2 1020,13.9 1060,13.9 1080,14.2 1140,14.0 1170,14.6 1200,14.3 1240,13.9 1300,13.2 1340,10.8 1370,7.6 1392,6.9 1420,7.6 1435,3.2"/>
<polyline stroke="#4472C4" stroke-width="3" vector-effect="non-scaling-stroke" points="48,8.6 680,8.6 700,8.3 780,8.2 860,8.3 880,8.8 900,9.2 940,9.0 960,10.0 1000,13.0 1020,13.7 1060,13.7 1080,14.0 1140,13.9 1170,14.7 1200,14.4 1240,14.0 1300,13.3 1340,11.0 1370,7.8 1392,6.8 1420,7.5 1435,3.0"/>
<polyline stroke="#ED7D31" stroke-width="3" vector-effect="non-scaling-stroke" points="48,4.9 680,4.9 690,5.5 760,5.6 860,5.6 880,6.2 900,6.6 940,6.8 960,8.1 1000,10.9 1020,12.0 1060,12.3 1080,12.9 1140,12.7 1160,13.4 1200,14.4 1240,15.1 1260,15.1 1300,14.6 1340,11.6 1370,9.3 1392,8.6 1420,9.4 1435,6.4"/>
<polyline stroke="#70AD47" stroke-width="3" vector-effect="non-scaling-stroke" points="48,5.3 680,5.3 700,5.1 760,5.3 780,5.0 800,5.3 860,5.3 880,6.0 900,6.5 940,6.7 960,8.0 1000,10.8 1020,12.0 1060,12.2 1080,12.8 1140,12.6 1160,13.2 1200,14.2 1240,15.0 1260,15.1 1300,14.5 1340,11.5 1370,9.2 1392,8.6 1420,9.5 1435,6.3"/>
</g>
<g transform="translate(1800,728) scale(0.7994,-13.9)" fill="none">
<polyline stroke="#FFC000" stroke-width="3" vector-effect="non-scaling-stroke" points="48,12.5 200,12.5 235,10.5 260,11.6 290,12.7 300,12.9 370,14.5 410,14.7 440,13.4 470,12.1 500,11.9 680,11.5 700,12.0 1100,12.1 1200,11.9 1240,12.0 1260,12.5 1568,12.5"/>
<polyline stroke="#9E480E" stroke-width="3" vector-effect="non-scaling-stroke" points="48,12.4 200,12.4 235,10.4 260,11.5 290,12.6 300,12.8 370,14.4 410,14.6 440,13.3 470,12.0 500,11.8 680,11.4 700,11.9 1100,12.1 1200,12.1 1220,12.0 1222,12.9 1224,12.1 1250,12.3 1256,13.0 1262,12.6 1268,12.2 1568,12.2"/>
<polyline stroke="#A5A5A5" stroke-width="3" vector-effect="non-scaling-stroke" points="48,14.0 200,14.0 230,12.2 260,13.7 285,14.3 290,15.0 295,14.2 320,14.0 350,14.1 352,14.6 360,13.7 410,13.5 440,11.7 470,10.2 490,9.8 550,9.7 680,9.6 700,10.1 720,10.2 1230,10.0 1232,10.6 1240,9.8 1568,9.9"/>
<polyline stroke="#255E91" stroke-width="3" vector-effect="non-scaling-stroke" points="48,13.75 200,13.75 230,12.0 260,13.5 290,14.0 300,13.9 320,13.8 360,13.5 410,13.3 440,11.5 470,10.0 490,9.7 550,9.6 680,9.5 700,10.0 720,10.2 1568,10.0"/>
<polyline stroke="#5B9BD5" stroke-width="3" vector-effect="non-scaling-stroke" points="48,3.1 205,3.1 240,4.6 270,3.2 300,3.1 330,3.8 360,5.7 400,6.4 430,6.8 470,8.0 520,8.5 700,8.4 1100,8.5 1115,8.9 1195,8.9 1200,8.6 1240,8.7 1260,9.3 1270,9.7 1568,9.7"/>
<polyline stroke="#4472C4" stroke-width="3" vector-effect="non-scaling-stroke" points="48,2.8 205,2.8 240,4.4 270,3.0 300,2.9 330,3.6 360,5.5 400,6.2 430,6.6 470,7.9 520,8.4 700,8.3 1100,8.4 1240,8.5 1260,9.4 1268,8.6 1350,8.6 1352,9.0 1354,8.6 1390,8.6 1392,9.0 1394,8.6 1440,8.6 1442,9.0 1446,8.6 1490,8.6 1492,9.0 1494,8.6 1548,8.6 1550,9.0 1552,8.6 1568,8.6"/>
<polyline stroke="#ED7D31" stroke-width="3" vector-effect="non-scaling-stroke" points="48,6.3 205,6.3 240,7.0 300,6.4 340,3.8 380,2.0 410,1.9 440,3.4 480,4.8 540,5.0 600,5.1 1100,5.1 1110,4.9 1220,4.9 1240,5.3 1255,4.9 1270,5.4 1285,5.9 1295,5.2 1310,5.8 1325,5.3 1345,5.7 1360,5.2 1375,5.6 1390,5.3 1410,5.5 1420,5.9 1440,5.3 1450,5.8 1465,5.3 1480,5.6 1500,5.3 1515,5.7 1530,5.3 1568,5.3"/>
<polyline stroke="#70AD47" stroke-width="3" vector-effect="non-scaling-stroke" points="48,6.3 205,6.3 240,7.0 300,6.4 340,4.0 380,2.2 410,2.0 440,3.5 480,4.8 540,4.9 600,5.1 1100,5.2 1120,5.4 1225,5.4 1235,5.6 1260,5.2 1568,5.2"/>
</g>
<g stroke="#FFC000" stroke-width="4">
<line x1="2808" y1="554" x2="2808" y2="1226"/><line x1="2812" y1="554" x2="2812" y2="868"/><line x1="2816" y1="554" x2="2816" y2="884"/><line x1="2862" y1="554" x2="2862" y2="1226"/><line x1="2870" y1="554" x2="2870" y2="886"/><line x1="2879" y1="554" x2="2879" y2="887"/><line x1="2887" y1="554" x2="2887" y2="878"/><line x1="2895" y1="554" x2="2895" y2="891"/><line x1="2919" y1="554" x2="2919" y2="907"/><line x1="2960" y1="554" x2="2960" y2="893"/><line x1="2984" y1="554" x2="2984" y2="893"/><line x1="3004" y1="554" x2="3004" y2="1224"/><line x1="3037" y1="554" x2="3037" y2="916"/><line x1="3041" y1="554" x2="3041" y2="1226"/>
</g>
<ellipse cx="1842" cy="610" rx="15" ry="131" fill="none" stroke="#FF0000" stroke-width="4"/>
<ellipse cx="1797" cy="775" rx="44" ry="232" fill="none" stroke="#00B050" stroke-width="4"/>
<text x="1867" y="493" font-size="23" style="fill:#FF0000">missing data (due to disconnect?)</text>
<text x="1836" y="981" font-size="27" style="fill:#00B050">strange data</text>
<g font-size="13">
<line x1="1541" y1="1733" x2="1569" y2="1733" stroke="#5B9BD5" stroke-width="4"/><text x="1571" y="1738">twr_dist0</text>
<line x1="1630" y1="1733" x2="1658" y2="1733" stroke="#ED7D31" stroke-width="4"/><text x="1660" y="1738">twr_dist1</text>
<line x1="1719" y1="1733" x2="1747" y2="1733" stroke="#A5A5A5" stroke-width="4"/><text x="1749" y="1738">twr_dist2</text>
<line x1="1808" y1="1733" x2="1836" y2="1733" stroke="#FFC000" stroke-width="4"/><text x="1838" y="1738">twr_dist3</text>
<line x1="1897" y1="1733" x2="1925" y2="1733" stroke="#4472C4" stroke-width="4"/><text x="1927" y="1738">twr_dist4</text>
<line x1="1986" y1="1733" x2="2014" y2="1733" stroke="#70AD47" stroke-width="4"/><text x="2016" y="1738">twr_dist5</text>
<line x1="2075" y1="1733" x2="2103" y2="1733" stroke="#255E91" stroke-width="4"/><text x="2105" y="1738">twr_dist6</text>
<line x1="2164" y1="1733" x2="2192" y2="1733" stroke="#9E480E" stroke-width="4"/><text x="2194" y="1738">twr_dist7</text>
</g>
</svg>

<div class="xl" style="left:766px;top:325px"><span>1</span><span>12</span><span>23</span><span>34</span><span>45</span><span>56</span><span>67</span><span>78</span><span>89</span><span>100</span><span>111</span><span>122</span><span>133</span><span>144</span><span>155</span><span>166</span><span>177</span><span>188</span><span>199</span><span>210</span><span>221</span><span>232</span><span>243</span><span>254</span><span>265</span><span>276</span><span>287</span><span>298</span><span>309</span><span>320</span><span>331</span><span>342</span><span>353</span><span>364</span><span>375</span><span>386</span><span>397</span><span>408</span><span>419</span><span>430</span><span>441</span><span>452</span><span>463</span><span>474</span><span>485</span><span>496</span><span>507</span><span>518</span><span>529</span><span>540</span><span>551</span><span>562</span><span>573</span><span>584</span><span>595</span><span>606</span><span>617</span><span>628</span><span>639</span><span>650</span><span>661</span><span>672</span><span>683</span><span>694</span><span>705</span><span>716</span><span>727</span><span>738</span><span>749</span><span>760</span><span>771</span><span>782</span><span>793</span><span>804</span><span>815</span><span>826</span><span>837</span><span>848</span><span>859</span><span>870</span><span>881</span><span>892</span><span>903</span><span>914</span><span>925</span><span>936</span><span>947</span><span>958</span><span>969</span><span>980</span><span>991</span><span>1002</span><span>1013</span><span>1024</span><span>1035</span><span>1046</span><span>1057</span><span>1068</span><span>1079</span><span>1090</span><span>1101</span><span>1112</span><span>1123</span><span>1134</span><span>1145</span><span>1156</span><span>1167</span><span>1178</span><span>1189</span><span>1200</span><span>1211</span><span>1222</span><span>1233</span><span>1244</span><span>1255</span><span>1266</span><span>1277</span><span>1288</span><span>1299</span><span>1310</span><span>1321</span><span>1332</span><span>1343</span><span>1354</span><span>1365</span><span>1376</span><span>1387</span><span>1398</span><span>1409</span><span>1420</span><span>1431</span><span>1442</span><span>1453</span><span>1464</span><span>1475</span><span>1486</span><span>1497</span><span>1508</span><span>1519</span><span>1530</span><span>1541</span><span>1552</span><span>1563</span><span>1574</span><span>1585</span><span>1596</span><span>1607</span><span>1618</span><span>1629</span><span>1640</span><span>1651</span><span>1662</span><span>1673</span><span>1684</span><span>1695</span><span>1706</span></div>

<div class="xl" style="left:769px;top:737px"><span>1</span><span>12</span><span>23</span><span>34</span><span>45</span><span>56</span><span>67</span><span>78</span><span>89</span><span>100</span><span>111</span><span>122</span><span>133</span><span>144</span><span>155</span><span>166</span><span>177</span><span>188</span><span>199</span><span>210</span><span>221</span><span>232</span><span>243</span><span>254</span><span>265</span><span>276</span><span>287</span><span>298</span><span>309</span><span>320</span><span>331</span><span>342</span><span>353</span><span>364</span><span>375</span><span>386</span><span>397</span><span>408</span><span>419</span><span>430</span><span>441</span><span>452</span><span>463</span><span>474</span><span>485</span><span>496</span><span>507</span><span>518</span><span>529</span><span>540</span><span>551</span><span>562</span><span>573</span><span>584</span><span>595</span><span>606</span><span>617</span><span>628</span><span>639</span><span>650</span><span>661</span><span>672</span><span>683</span><span>694</span><span>705</span><span>716</span><span>727</span><span>738</span><span>749</span><span>760</span><span>771</span><span>782</span><span>793</span><span>804</span><span>815</span><span>826</span><span>837</span><span>848</span><span>859</span><span>870</span><span>881</span><span>892</span><span>903</span><span>914</span><span>925</span><span>936</span><span>947</span><span>958</span><span>969</span><span>980</span><span>991</span><span>1002</span><span>1013</span><span>1024</span><span>1035</span><span>1046</span><span>1057</span><span>1068</span><span>1079</span><span>1090</span><span>1101</span><span>1112</span><span>1123</span><span>1134</span><span>1145</span><span>1156</span><span>1167</span><span>1178</span><span>1189</span><span>1200</span><span>1211</span><span>1222</span><span>1233</span><span>1244</span><span>1255</span><span>1266</span><span>1277</span><span>1288</span><span>1299</span><span>1310</span><span>1321</span><span>1332</span><span>1343</span><span>1354</span><span>1365</span><span>1376</span><span>1387</span><span>1398</span><span>1409</span><span>1420</span><span>1431</span><span>1442</span><span>1453</span><span>1464</span><span>1475</span><span>1486</span><span>1497</span><span>1508</span><span>1519</span><span>1530</span><span>1541</span><span>1552</span><span>1563</span><span>1574</span><span>1585</span><span>1596</span><span>1607</span><span>1618</span><span>1629</span><span>1640</span><span>1651</span><span>1662</span><span>1673</span><span>1684</span><span>1695</span><span>1706</span></div>
</body></html>
